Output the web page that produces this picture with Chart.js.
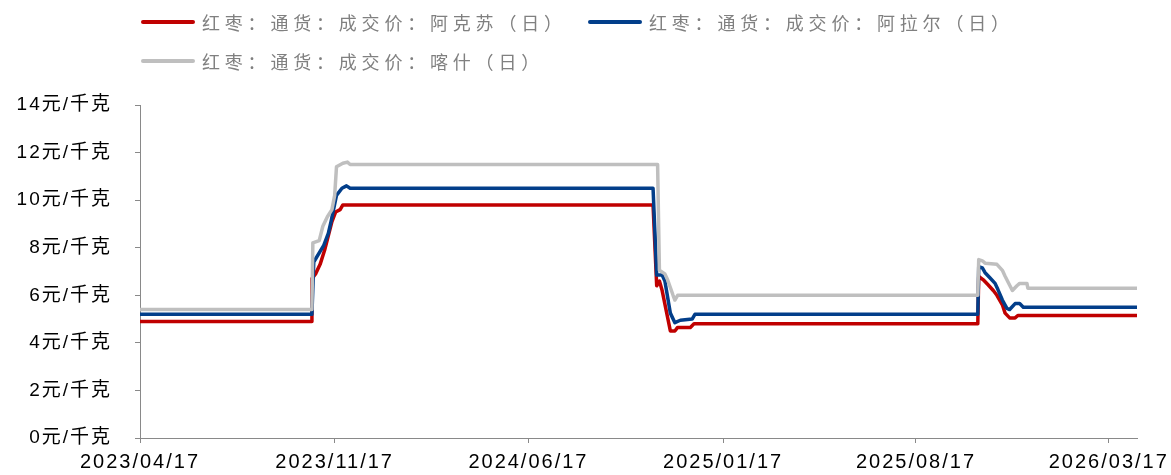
<!DOCTYPE html>
<html>
<head>
<meta charset="utf-8">
<script src="https://cdn.jsdelivr.net/npm/chart.js@4.4.1/dist/chart.umd.min.js"></script>
<style>
  html, body { margin: 0; padding: 0; background: #fff; }
  #wrap { position: relative; width: 1171px; height: 475px; overflow: hidden; }
  #chart { position: absolute; left: 0; top: 0; }
  .item {
    position: absolute; height: 24px; display: flex; align-items: center;
    font-family: "Noto Sans CJK SC", sans-serif; font-size: 18px;
    letter-spacing: 4.8px; color: #808080; white-space: nowrap;
  }
  .item i { display: inline-block; width: 54px; height: 4px; border-radius: 2px; margin-right: 7px; }
</style>
</head>
<body>
<div id="wrap">
  <canvas id="chart" width="1171" height="475"></canvas>
</div>
<script>
// axis
const startDate = "2023-04-17";
const endDate = "2026-04-17";
const tickDates = ["2023-04-17", "2023-11-17", "2024-06-17", "2025-01-17", "2025-08-17", "2026-03-17"];
const yMin = 0, yMax = 14, yStep = 2;
const yUnit = "元/千克";

// series
const seriesNames = [
  "红枣：通货：成交价：阿克苏（日）",
  "红枣：通货：成交价：阿拉尔（日）",
  "红枣：通货：成交价：喀什（日）"
];
const seriesColors = ["#C00000", "#023E8A", "#BFBFBF"];

const aksuDates = [
  "2023-04-17", "2023-10-22", "2023-10-23", "2023-10-27", "2023-11-01", "2023-11-06",
  "2023-11-10", "2023-11-14", "2023-11-18", "2023-11-23", "2023-11-26",
  "2024-11-01", "2024-11-05", "2024-11-08", "2024-11-11", "2024-11-20", "2024-11-25",
  "2024-11-28", "2024-12-12", "2024-12-16",
  "2025-10-24", "2025-10-25", "2025-10-30", "2025-11-04", "2025-11-10", "2025-11-14",
  "2025-11-20", "2025-11-23", "2025-11-28", "2025-12-04", "2025-12-07", "2026-04-17"
];
const aksuPrices = [
  4.9, 4.9, 6.7, 6.9, 7.3, 7.9,
  8.5, 9.1, 9.5, 9.6, 9.8,
  9.8, 6.4, 6.6, 6.2, 4.5, 4.5,
  4.65, 4.65, 4.8,
  4.8, 6.8, 6.65, 6.45, 6.2, 6.0,
  5.6, 5.25, 5.05, 5.05, 5.15, 5.15
];

const aralDates = [
  "2023-04-17", "2023-10-23", "2023-10-25", "2023-11-05", "2023-11-10", "2023-11-13",
  "2023-11-19", "2023-11-25", "2023-11-30", "2023-12-04",
  "2024-11-01", "2024-11-05", "2024-11-11", "2024-11-14", "2024-11-20", "2024-11-25",
  "2024-12-01", "2024-12-14", "2024-12-17",
  "2025-10-24", "2025-10-25", "2025-10-29", "2025-11-01", "2025-11-06", "2025-11-12",
  "2025-11-15", "2025-11-20", "2025-11-25", "2025-11-28", "2025-12-04", "2025-12-09",
  "2025-12-13", "2026-04-17"
];
const aralPrices = [
  5.2, 5.2, 7.4, 8.1, 8.6, 9.1,
  10.2, 10.5, 10.6, 10.5,
  10.5, 6.85, 6.85, 6.6, 5.25, 4.85,
  4.95, 5.0, 5.2,
  5.2, 7.2, 7.15, 6.95, 6.75, 6.5,
  6.25, 5.8, 5.45, 5.4, 5.65, 5.65,
  5.5, 5.5
];

const kashgarDates = [
  "2023-04-17", "2023-10-23", "2023-10-24", "2023-10-31", "2023-11-04", "2023-11-09",
  "2023-11-14", "2023-11-17", "2023-11-19", "2023-11-26", "2023-12-01", "2023-12-04",
  "2024-11-06", "2024-11-08", "2024-11-14", "2024-11-17", "2024-11-23", "2024-11-25",
  "2024-11-28",
  "2025-10-24", "2025-10-25", "2025-10-29", "2025-11-01", "2025-11-14", "2025-11-20",
  "2025-11-23", "2025-12-01", "2025-12-06", "2025-12-09", "2025-12-17", "2025-12-18",
  "2026-04-17"
];
const kashgarPrices = [
  5.4, 5.4, 8.2, 8.3, 8.9, 9.3,
  9.6, 10.2, 11.4, 11.55, 11.6, 11.5,
  11.5, 7.05, 6.9, 6.65, 6.0, 5.8,
  6.0,
  6.0, 7.5, 7.45, 7.35, 7.3, 7.05,
  6.8, 6.2, 6.4, 6.5, 6.5, 6.3,
  6.3
];

function dayIndex(s)
{
  return (Date.parse(s) - Date.parse(startDate)) / 86400000;
}

function points(dates, prices)
{
  return dates.map((d, i) => ({ x: dayIndex(d), y: prices[i] }));
}

const seriesData = [
  points(aksuDates, aksuPrices),
  points(aralDates, aralPrices),
  points(kashgarDates, kashgarPrices)
];

// legend (html, real text)
const legendSpots = [[141, 10], [588, 10], [141, 49]];
const wrap = document.getElementById("wrap");
seriesNames.forEach((name, i) =>
{
  const d = document.createElement("div");
  d.className = "item";
  d.style.left = legendSpots[i][0] + "px";
  d.style.top = legendSpots[i][1] + "px";
  const sw = document.createElement("i");
  sw.style.background = seriesColors[i];
  d.appendChild(sw);
  d.appendChild(document.createTextNode(name));
  wrap.appendChild(d);
});

const axisColor = "#898989";
const tickFont = "'Liberation Sans', 'Noto Sans CJK SC', sans-serif";

const spacing = {
  id: "spacing",
  beforeLayout(chart) { chart.ctx.letterSpacing = "2px"; },
  beforeDraw(chart) { chart.ctx.letterSpacing = "2px"; }
};

new Chart(document.getElementById("chart"),
{
  type: "line",
  data:
  {
    datasets: seriesData.map((pts, i) => (
    {
      label: seriesNames[i],
      data: pts,
      borderColor: seriesColors[i],
      backgroundColor: seriesColors[i],
      borderWidth: 3.5,
      pointRadius: 0,
      tension: 0,
      borderJoinStyle: "round",
      borderCapStyle: "round",
      order: 3 - i
    }))
  },
  options:
  {
    responsive: false,
    animation: false,
    events: [],
    layout: { padding: { left: 0, right: 34, top: 105, bottom: 0 } },
    plugins: { legend: { display: false }, tooltip: { enabled: false } },
    scales:
    {
      x:
      {
        type: "linear",
        min: 0,
        max: dayIndex(endDate),
        afterBuildTicks: s => { s.ticks = tickDates.map(d => ({ value: dayIndex(d) })); },
        afterFit: s => { s.height = 37; s.paddingLeft = 0; s.paddingRight = 0; },
        grid: { drawOnChartArea: false, color: axisColor, tickLength: 5 },
        border: { color: axisColor, width: 1 },
        ticks:
        {
          autoSkip: false,
          maxRotation: 0,
          padding: 7,
          color: "#000",
          font: { family: tickFont, size: 20 },
          callback: (v, i) => tickDates[i].replace(/-/g, "/")
        }
      },
      y:
      {
        min: yMin,
        max: yMax,
        afterFit: s => { s.width = 140; },
        grid: { drawOnChartArea: false, color: axisColor, tickLength: 5 },
        border: { color: axisColor, width: 1 },
        ticks:
        {
          stepSize: yStep,
          padding: 23,
          color: "#000",
          font: { family: tickFont, size: 19 },
          callback: v => v + yUnit
        }
      }
    }
  },
  plugins: [spacing]
});
</script>
</body>
</html>
